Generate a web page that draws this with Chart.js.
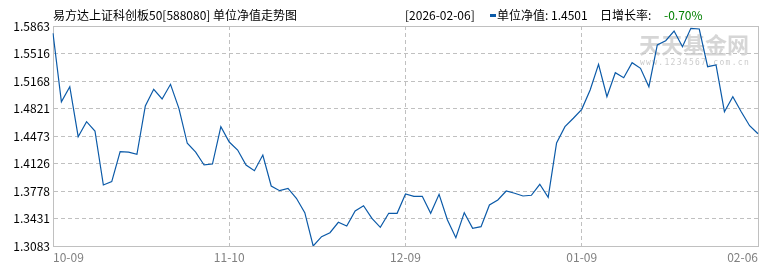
<!DOCTYPE html>
<html><head><meta charset="utf-8">
<script src="https://cdn.jsdelivr.net/npm/chart.js@4.4.1/dist/chart.umd.min.js"></script>
<style>html,body{margin:0;padding:0;background:#fff;}#wrap{width:770px;height:270px;position:relative;}</style>
</head><body><div id="wrap"><canvas id="c"></canvas></div>
<script>
const chartTitle = '易方达上证科创板50[588080] 单位净值走势图';
const latestDate = '[2026-02-06]';
const seriesName = '单位净值';
const latestValue = '1.4501';
const growthLabel = '日增长率:';
const growthValue = '-0.70%';
const watermark = '天天基金网';
const watermarkUrl = 'www.1234567.com.cn';

const dates = [
 '10-09','10-10','10-13','10-14','10-15','10-16','10-17','10-20','10-21','10-22','10-23','10-24',
 '10-27','10-28','10-29','10-30','10-31','11-03','11-04','11-05','11-06','11-07','11-10','11-11',
 '11-12','11-13','11-14','11-17','11-18','11-19','11-20','11-21','11-24','11-25','11-26','11-27',
 '11-28','12-01','12-02','12-03','12-04','12-05','12-08','12-09','12-10','12-11','12-12','12-15',
 '12-16','12-17','12-18','12-19','12-22','12-23','12-24','12-25','12-26','12-29','12-30','12-31',
 '01-05','01-06','01-07','01-08','01-09','01-12','01-13','01-14','01-15','01-16','01-19','01-20',
 '01-21','01-22','01-23','01-26','01-27','01-28','01-29','01-30','02-02','02-03','02-04','02-05','02-06'
];
const navValues = [
 1.5771,1.4906,1.5096,1.4464,1.4654,1.4536,1.3854,1.3896,1.4275,1.4270,1.4242,1.4852,
 1.5063,1.4941,1.5126,1.4823,1.4381,1.4270,1.4107,1.4119,1.4591,1.4397,1.4296,1.4107,
 1.4035,1.4233,1.3841,1.3782,1.3812,1.3686,1.3504,1.3083,1.3201,1.3251,1.3383,1.3336,
 1.3525,1.3592,1.3433,1.3319,1.3496,1.3496,1.3740,1.3711,1.3711,1.3496,1.3736,1.3412,
 1.3188,1.3504,1.3307,1.3327,1.3601,1.3664,1.3778,1.3749,1.3715,1.3724,1.3863,1.3698,
 1.4385,1.4591,1.4697,1.4810,1.5054,1.5379,1.4970,1.5273,1.5210,1.5399,1.5328,1.5096,
 1.5623,1.5677,1.5800,1.5601,1.5834,1.5825,1.5349,1.5370,1.4780,1.4970,1.4780,1.4603,1.4501
];
const yTicks = [1.3083,1.3431,1.3778,1.4126,1.4473,1.4821,1.5168,1.5516,1.5863];
const xTickLabels = ['10-09','11-10','12-09','01-09','02-06'];
const xTickStep = 21;

const FONT = '"Noto Sans CJK SC", "Noto Sans", sans-serif';
const lineColor = '#0b5aa8';

const frame = {
  id: 'frame',
  beforeDatasetsDraw(chart) {
    const {ctx, chartArea: a} = chart;
    ctx.save();
    // watermark
    ctx.fillStyle = 'rgba(200,200,200,0.75)';
    ctx.font = 'bold 22px ' + FONT;
    ctx.textBaseline = 'middle';
    ctx.textAlign = 'left';
    ctx.fillText(watermark, 639, 45);
    ctx.font = '8px "DejaVu Sans Mono", monospace';
    ctx.fillStyle = 'rgba(190,190,190,0.8)';
    const w = 110 / watermarkUrl.length;
    for (let i = 0; i < watermarkUrl.length; i++) ctx.fillText(watermarkUrl[i], 640 + i * w, 63);
    // box
    ctx.strokeStyle = '#c0c0c0';
    ctx.lineWidth = 1;
    ctx.setLineDash([]);
    ctx.strokeRect(Math.round(a.left) + 0.5, Math.round(a.top) + 0.5, Math.round(a.right - a.left), Math.round(a.bottom - a.top));
    ctx.restore();
  },
  afterDraw(chart) {
    const {ctx} = chart;
    ctx.save();
    ctx.font = '12px ' + FONT;
    ctx.textBaseline = 'middle';
    ctx.textAlign = 'left';
    ctx.fillStyle = '#000';
    ctx.fillText(chartTitle, 53, 15);
    ctx.fillText(latestDate, 405, 15);
    ctx.fillStyle = lineColor;
    ctx.fillRect(490, 14, 6, 3);
    ctx.fillStyle = '#000';
    ctx.fillText(seriesName + ': ' + latestValue, 497, 15);
    ctx.fillText(growthLabel, 600, 15);
    ctx.fillStyle = '#008000';
    ctx.fillText(growthValue, 664, 15);
    ctx.restore();
  }
};

new Chart(document.getElementById('c'), {
  type: 'line',
  data: {
    labels: dates,
    datasets: [{
      data: navValues,
      borderColor: lineColor,
      borderWidth: 1.2,
      pointRadius: 0,
      tension: 0,
      fill: false
    }]
  },
  options: {
    responsive: true,
    maintainAspectRatio: false,
    animation: false,
    events: [],
    layout: {padding: {top: 26, right: 12, left: 0, bottom: 0}},
    plugins: {legend: {display: false}, tooltip: {enabled: false}, title: {display: false}},
    scales: {
      x: {
        type: 'category',
        offset: false,
        grid: {color: '#c0c0c0', drawTicks: false, lineWidth: 1},
        border: {display: true, color: '#c0c0c0', dash: [4, 3]},
        ticks: {
          autoSkip: false, maxRotation: 0, align: 'inner', padding: 4,
          color: '#808080', font: {family: FONT, size: 12},
          callback: (v, i) => (i % xTickStep === 0) ? xTickLabels[i / xTickStep] : null
        },
        afterFit: s => { s.height = 24; }
      },
      y: {
        min: yTicks[0], max: yTicks[yTicks.length - 1],
        grid: {color: '#c0c0c0', drawTicks: false, lineWidth: 1},
        border: {display: true, color: '#c0c0c0', dash: [4, 3]},
        afterBuildTicks: s => { s.ticks = yTicks.map(v => ({value: v})); },
        ticks: {
          padding: 3, color: '#000', font: {family: FONT, size: 12},
          callback: v => Number(v).toFixed(4)
        },
        afterFit: s => { s.width = 53; }
      }
    }
  },
  plugins: [frame]
});
</script></body></html>
